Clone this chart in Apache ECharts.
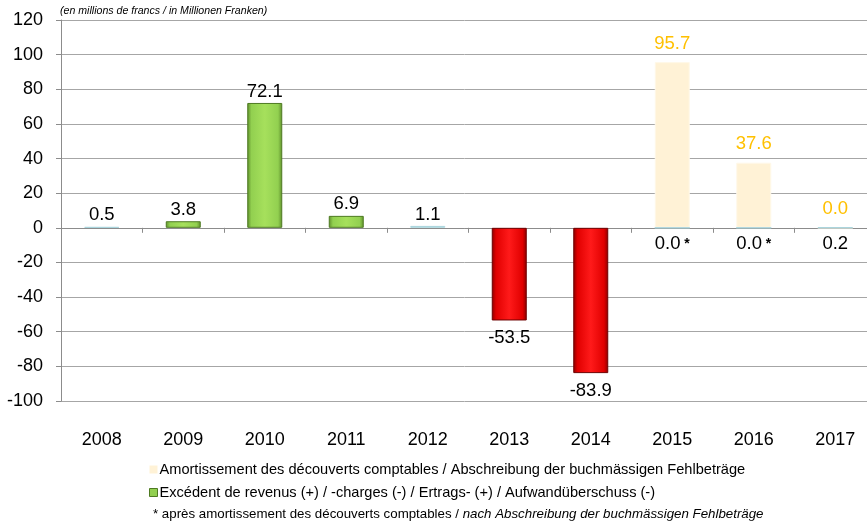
<!DOCTYPE html>
<html>
<head>
<meta charset="utf-8">
<script src="https://cdn.jsdelivr.net/npm/echarts@6/dist/echarts.min.js"></script>
<style>
  html, body { margin: 0; padding: 0; background: #fff; }
  #chart { width: 867px; height: 528px; }
</style>
</head>
<body>
<div id="chart"></div>
<script>
const years = ['2008', '2009', '2010', '2011', '2012', '2013', '2014', '2015', '2016', '2017']
// Amortissement des découverts comptables
const amortissement = [null, null, null, null, null, null, null, 95.7, 37.6, 0.0]
// Excédent de revenus / charges
const excedent = [0.5, 3.8, 72.1, 6.9, 1.1, -53.5, -83.9, 0.0, 0.0, 0.2]
// années avec astérisque (après amortissement)
const starred = ['2015', '2016']
const yTicks = { min: -100, max: 120, step: 20 }

const nameAmort = 'Amortissement des découverts comptables / Abschreibung der buchmässigen Fehlbeträge'
const nameExc = 'Excédent de revenus (+) / -charges (-) / Ertrags- (+) / Aufwandüberschuss (-)'

const font = 'Liberation Sans, Arial, sans-serif'

function bevel(light, mid, dark) {
  return {
    type: 'linear', x: 0, y: 0, x2: 1, y2: 0,
    colorStops: [
      { offset: 0, color: dark },
      { offset: 0.12, color: mid },
      { offset: 0.5, color: light },
      { offset: 0.88, color: mid },
      { offset: 1, color: dark },
    ],
  }
}

const greenFill = bevel('#a6e05c', '#92d050', '#5f8f2c')
const redFill = bevel('#ff1a1a', '#e00000', '#8a0000')

const excData = excedent.map((v, i) => {
  const y = years[i]
  const afterAmort = i >= 7
  let style
  if (Math.abs(v) < 1.5) {
    style = { color: '#d6eef2', borderColor: '#a9d4dc', borderWidth: 1 }
  } else if (v > 0) {
    style = { color: greenFill, borderColor: '#4e7a22', borderWidth: 1 }
  } else {
    style = { color: redFill, borderColor: '#6e0000', borderWidth: 1 }
  }
  let dist = 2
  if (v < 0) dist = 8
  if (afterAmort) dist = 6
  return {
    value: v,
    itemStyle: style,
    label: {
      position: (v < 0 || afterAmort) ? 'bottom' : 'top',
      distance: dist,
      formatter: starred.includes(y) ? '{a|' + v.toFixed(1) + '}{s| *}' : v.toFixed(1),
    },
  }
})

const chart = echarts.init(document.getElementById('chart'), null, { renderer: 'canvas' })

chart.setOption({
  animation: false,
  backgroundColor: '#ffffff',
  textStyle: { fontFamily: font },
  grid: { left: 61, right: -9, top: 20, bottom: 127, containLabel: false, outerBoundsMode: 'none' },
  legend: {
    orient: 'vertical',
    left: 144,
    top: 457,
    itemWidth: 8,
    itemHeight: 8,
    itemGap: 8,
    icon: 'rect',
    textStyle: { fontSize: 14.6, color: '#000', fontFamily: font, padding: [0, 0, 0, -3] },
    data: [
      { name: nameAmort, itemStyle: { color: '#fff2d6', borderWidth: 0 } },
      { name: nameExc, itemStyle: { color: '#92d050', borderColor: '#4e7a22', borderWidth: 1 } },
    ],
  },
  graphic: [
    {
      type: 'text', left: 60, top: 6,
      style: { text: '(en millions de francs / in Millionen Franken)', font: 'italic 10.6px ' + font, fill: '#000' },
    },
    {
      type: 'text', left: 153, top: 508,
      style: {
        text: '{n|* après amortissement des découverts comptables / }{i|nach Abschreibung der buchmässigen Fehlbeträge}',
        rich: {
          n: { fontSize: 13.3, fontFamily: font, fill: '#000', color: '#000' },
          i: { fontSize: 13.3, fontFamily: font, fontStyle: 'italic', fill: '#000', color: '#000' },
        },
      },
    },
  ],
  xAxis: [
    {
      type: 'category',
      data: years,
      axisLine: { onZero: true, lineStyle: { color: '#8c8c8c', width: 1 } },
      axisTick: { show: true, length: 5, lineStyle: { color: '#8c8c8c' } },
      axisLabel: { show: false },
      splitLine: { show: false },
    },
    {
      type: 'category',
      data: years,
      position: 'bottom',
      axisLine: { show: false, onZero: false },
      axisTick: { show: false },
      axisLabel: { margin: 30, fontSize: 18, color: '#000', fontFamily: font },
      splitLine: { show: false },
    },
  ],
  yAxis: {
    type: 'value',
    min: yTicks.min,
    max: yTicks.max,
    interval: yTicks.step,
    axisLine: { show: true, lineStyle: { color: '#8c8c8c', width: 1 } },
    axisTick: { show: true, length: 5, lineStyle: { color: '#8c8c8c' } },
    axisLabel: { margin: 18, fontSize: 18, color: '#000', fontFamily: font },
    splitLine: { show: true, lineStyle: { color: '#a6a6a6', width: 1 } },
  },
  series: [
    {
      name: nameAmort,
      type: 'bar',
      data: amortissement,
      barWidth: 35,
      barGap: '-100%',
      itemStyle: { color: '#fff2d6', borderColor: '#fff8e8', borderWidth: 1 },
      label: {
        show: true,
        position: 'top',
        distance: 9,
        fontSize: 18.5,
        color: '#ffc000',
        fontFamily: font,
        formatter: (p) => p.value.toFixed(1),
      },
      z: 2,
    },
    {
      name: nameExc,
      type: 'bar',
      data: excData,
      barWidth: 35,
      label: {
        show: true,
        fontSize: 18.5,
        color: '#000',
        fontFamily: font,
        rich: {
          a: { fontSize: 18.5, color: '#000', fontFamily: font },
          s: { fontSize: 14, color: '#000', fontFamily: font, fontWeight: 'bold' },
        },
      },
      z: 3,
    },
  ],
})
</script>
</body>
</html>
